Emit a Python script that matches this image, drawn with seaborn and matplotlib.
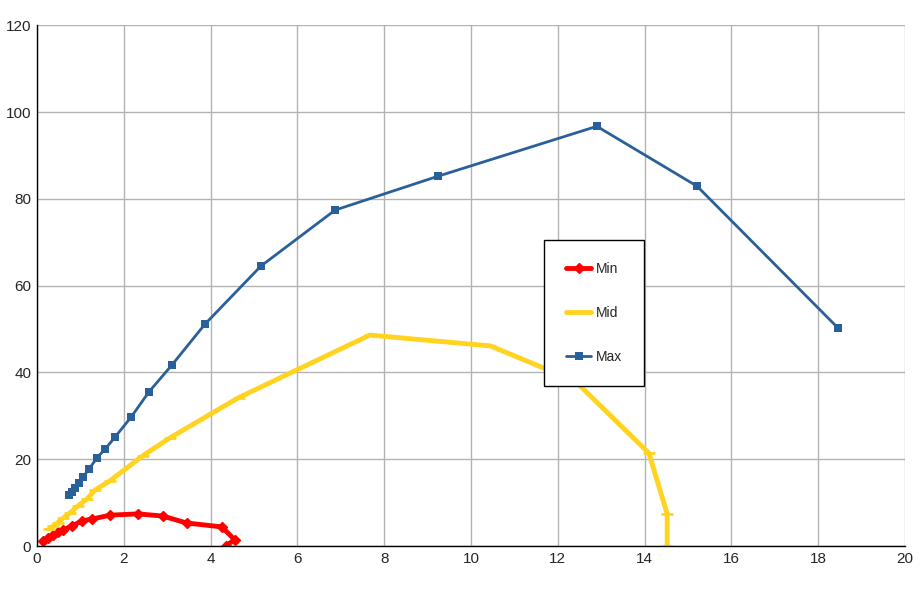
import pandas as pd
import numpy as np
import matplotlib
matplotlib.use("Agg")
import matplotlib.pyplot as plt
import seaborn as sns

# Values
min_x = [0.14, 0.25, 0.37, 0.48, 0.60, 0.81, 1.04, 1.27, 1.68, 2.33, 2.90, 3.45, 4.26, 4.56, 4.35]
min_y = [1.2, 1.8, 2.5, 3.2, 3.7, 4.6, 5.8, 6.2, 7.1, 7.4, 6.9, 5.3, 4.4, 1.4, 0.1]

mid_x = [0.28, 0.38, 0.48, 0.60, 0.76, 0.94, 1.15, 1.34, 1.68, 2.44, 3.06, 4.65, 7.67, 10.45, 12.40, 14.10, 14.52, 14.52]
mid_y = [3.9, 4.6, 5.4, 6.4, 7.6, 9.2, 10.8, 12.9, 15.0, 20.8, 24.9, 34.2, 48.6, 46.1, 38.0, 21.4, 7.4, 0.0]

max_x = [0.74, 0.81, 0.88, 0.97, 1.06, 1.20, 1.38, 1.57, 1.80, 2.17, 2.58, 3.11, 3.87, 5.16, 6.87, 9.24, 12.90, 15.21, 18.46]
max_y = [11.7, 12.4, 13.4, 14.5, 15.9, 17.7, 20.3, 22.3, 25.1, 29.7, 35.5, 41.7, 51.1, 64.5, 77.4, 85.2, 96.7, 82.9, 50.2]

x_ticks = list(range(0, 21, 2))
y_ticks = list(range(0, 121, 20))

sns.set_style("white")
plt.rcParams['font.family'] = ['Liberation Sans', 'DejaVu Sans']

fig = plt.figure(figsize=(9.23, 6), dpi=100)
ax = fig.add_axes([0.040, 0.09, 0.9405, 0.868])

# Min series
sns.lineplot(x=min_x, y=min_y, sort=False, estimator=None, ax=ax, color='#FF0000',
             linewidth=3.5, marker='D', markersize=5, markeredgewidth=1,
             markeredgecolor='#FF0000', label='Min')
# Mid series
sns.lineplot(x=mid_x, y=mid_y, sort=False, estimator=None, ax=ax, color='#FFD320',
             linewidth=3.5, marker='_', markersize=8, markeredgewidth=2,
             markeredgecolor='#FFD320', label='Mid')
# Max series
sns.lineplot(x=max_x, y=max_y, sort=False, estimator=None, ax=ax, color='#2A6099',
             linewidth=2, marker='s', markersize=5.5, markeredgewidth=0, label='Max')

ax.set_xlim(0, 20)
ax.set_ylim(0, 120)
ax.set_xticks(x_ticks)
ax.set_yticks(y_ticks)
ax.grid(True, color='#b3b3b3', linewidth=1)
ax.set_axisbelow(True)
for side in ['top', 'right']:
    ax.spines[side].set_visible(False)
for side in ['left', 'bottom']:
    ax.spines[side].set_color('black')
    ax.spines[side].set_linewidth(1)
ax.tick_params(axis='both', length=0, labelsize=11, pad=4)
ax.set_xlabel('')
ax.set_ylabel('')

leg = ax.legend(loc='center', bbox_to_anchor=(0.6417, 0.447), frameon=True, fancybox=False,
                edgecolor='black', framealpha=1, fontsize=10, labelspacing=2.15,
                handlelength=1.8, handletextpad=0.3, borderpad=1.6, borderaxespad=0)
leg.get_frame().set_linewidth(1)

plt.savefig("out.png", dpi=100)
plt.close()
